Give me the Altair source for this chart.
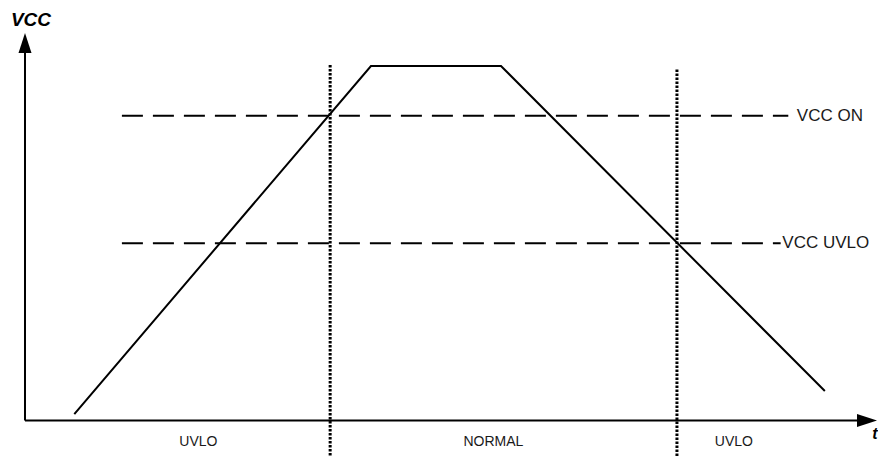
import altair as alt
import pandas as pd

# ---- data (time units / volt units) ----
trace_t = [5.8, 40.7, 56.0, 94.1]
trace_v = [0.18, 10.0, 10.0, 0.83]

thr_names = ["VCC ON", "VCC UVLO"]
thr_levels = [8.6, 5.0]
thr_start = [11.4, 11.4]
thr_end = [89.8, 88.9]
thr_label_t = [90.8, 89.1]

bound_t = [35.9, 76.7]
bound_top = [10.03, 9.9]
bound_bottom = [-1.0, -1.03]

region_names = ["UVLO", "NORMAL", "UVLO"]
region_t = [20.4, 55.1, 83.4]
region_v = [-0.62, -0.62, -0.62]

axis_x_end = 99.0
axis_y_end = 10.7
arrow_x = [99.06]
arrow_y = [10.65]

X_DOMAIN = [-2.0, 100.353]
Y_DOMAIN = [-1.0296, 11.636]
FONT = "Liberation Sans"

xs = alt.Scale(domain=X_DOMAIN, nice=False, zero=False)
ys = alt.Scale(domain=Y_DOMAIN, nice=False, zero=False)


def X(f="t"):
    return alt.X(f"{f}:Q", scale=xs, axis=None)


def Y(f="v"):
    return alt.Y(f"{f}:Q", scale=ys, axis=None)


trace_df = pd.DataFrame({"t": trace_t, "v": trace_v, "o": range(len(trace_t))})
thr_df = pd.DataFrame({"name": thr_names, "v": thr_levels, "t": thr_start,
                       "t2": thr_end, "lt": thr_label_t})
bound_df = pd.DataFrame({"t": bound_t, "v": bound_top, "v2": bound_bottom})
region_df = pd.DataFrame({"name": region_names, "t": region_t, "v": region_v})
xaxis_df = pd.DataFrame({"t": [0.0], "t2": [axis_x_end], "v": [0.0]})
yaxis_df = pd.DataFrame({"t": [0.0], "v": [0.0], "v2": [axis_y_end]})
xarrow_df = pd.DataFrame({"t": arrow_x, "v": [0.0]})
yarrow_df = pd.DataFrame({"t": [0.0], "v": arrow_y})
ylabel_df = pd.DataFrame({"t": [0.7], "v": [11.13], "name": ["VCC"]})
xlabel_df = pd.DataFrame({"t": [100.3], "v": [-0.15], "name": ["t"]})

x_axis = alt.Chart(xaxis_df).mark_rule(color="black", strokeWidth=2).encode(
    x=X(), x2="t2:Q", y=Y())
y_axis = alt.Chart(yaxis_df).mark_rule(color="black", strokeWidth=2).encode(
    x=X(), y=Y(), y2="v2:Q")

x_arrow = alt.Chart(xarrow_df).mark_point(
    shape="M1,0L-1,-0.65L-1,0.65Z", filled=True, size=400, opacity=1,
    color="black", strokeWidth=0).encode(x=X(), y=Y())
y_arrow = alt.Chart(yarrow_df).mark_point(
    shape="M0,-1L0.65,1L-0.65,1Z", filled=True, size=400, opacity=1,
    color="black", strokeWidth=0).encode(x=X(), y=Y())

thr_lines = alt.Chart(thr_df).mark_rule(
    color="black", strokeWidth=2, strokeDash=[21, 10]).encode(
    x=X(), x2="t2:Q", y=Y())
thr_text = alt.Chart(thr_df).mark_text(
    align="left", baseline="middle", font=FONT, fontSize=17, color="#1a1a1a").encode(
    x=X("lt"), y=Y(), text="name:N")

bounds = alt.Chart(bound_df).mark_rule(
    color="black", strokeWidth=3, strokeDash=[2.5, 1.5]).encode(
    x=X(), y=Y(), y2="v2:Q")

trace = alt.Chart(trace_df).mark_line(color="black", strokeWidth=2).encode(
    x=X(), y=Y(), order="o:Q")

regions = alt.Chart(region_df).mark_text(
    align="center", baseline="middle", font=FONT, fontSize=14, color="#1a1a1a").encode(
    x=X(), y=Y(), text="name:N")

ylabel = alt.Chart(ylabel_df).mark_text(
    align="center", baseline="alphabetic", font=FONT, fontSize=19, fontStyle="italic",
    fontWeight="bold", color="black").encode(x=X(), y=Y(), text="name:N")
xlabel = alt.Chart(xlabel_df).mark_text(
    align="right", baseline="top", font=FONT, fontSize=16, fontStyle="italic",
    fontWeight="bold", color="black").encode(x=X(), y=Y(), text="name:N")

chart = alt.layer(
    thr_lines, bounds, x_axis, y_axis, x_arrow, y_arrow, trace,
    thr_text, regions, ylabel, xlabel
).properties(
    width=870, height=449, autosize=alt.AutoSizeParams(type="none"), padding=0
).configure_view(stroke=None)

chart.save("out.html", embed_options={"renderer": "svg", "actions": False})
